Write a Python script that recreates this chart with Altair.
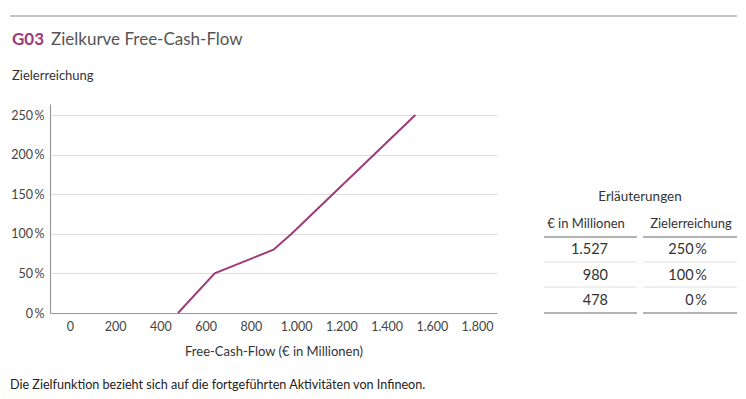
import altair as alt
import pandas as pd

# ---- data ----
fcf = [478, 640, 900, 980, 1527]          # Free-Cash-Flow (€ in Mio)
ziel = [0, 50, 80, 100, 250]              # Zielerreichung in %
x_ticks = [0, 200, 400, 600, 800, 1000, 1200, 1400, 1600, 1800]
y_ticks = [0, 50, 100, 150, 200, 250]
tab_fcf = [1527, 980, 478]
tab_ziel = [250, 100, 0]
tab_headers = ["€ in Millionen", "Zielerreichung"]

FONT = "Lato"
MAGENTA = "#9e3a79"

line_df = pd.DataFrame({"fcf": fcf, "ziel": ziel})

W, H = 447, 209

line = alt.Chart(line_df).mark_line(color=MAGENTA, strokeWidth=2).encode(
    x=alt.X("fcf:Q", scale=alt.Scale(domain=[-88, 1888], nice=False, zero=False),
            axis=alt.Axis(values=x_ticks, grid=False, ticks=False,
                          labelExpr="replace(format(datum.value, ','), ',', '.')",
                          title="Free-Cash-Flow (€ in Millionen)",
                          labelPadding=7, titlePadding=13)),
    y=alt.Y("ziel:Q", scale=alt.Scale(domain=[0, 264], nice=False),
            axis=alt.Axis(values=y_ticks, grid=True, ticks=False,
                          labelExpr="datum.value + '\u2009%'",
                          title=None, labelPadding=6)),
)

def one(**kw):
    return pd.DataFrame([kw])

def txt(df, size, color, weight="normal", align="left", baseline="alphabetic"):
    return alt.Chart(df).mark_text(font=FONT, fontSize=size, color=color,
                                   fontWeight=weight, align=align, baseline=baseline).encode(
        x=alt.X("px:Q", scale=None, axis=None),
        y=alt.Y("py:Q", scale=None, axis=None),
        text="t:N",
    )

top_rule = alt.Chart(one(a=0)).mark_rule(color="#8c8c8c", strokeWidth=1.2).encode(
    x=alt.value(-40), x2=alt.value(687), y=alt.value(-88))

g03 = txt(one(px=-38, py=-59, t="G03"), 17, MAGENTA, weight="bold")
title = txt(one(px=1, py=-59, t="Zielkurve Free-Cash-Flow"), 17, "#555555")
ytitle = txt(one(px=-38, py=-24, t="Zielerreichung"), 13, "#333333")
foot = txt(one(px=-40, py=281,
               t="Die Zielfunktion bezieht sich auf die fortgeführten Aktivitäten von Infineon."),
           12.6, "#222222", baseline="middle")

# table
tab_title = txt(one(px=590, py=93, t="Erläuterungen"), 13.5, "#333333", align="center", baseline="middle")
hdr_df = pd.DataFrame({"px": [536, 641], "py": [120, 120], "t": tab_headers})
headers = txt(hdr_df, 13, "#333333", align="center", baseline="middle")

rows_df = pd.DataFrame({"i": list(range(len(tab_fcf))), "v": tab_fcf, "z": tab_ziel})
rows_df["py"] = 146 + 25.5 * rows_df["i"]
c1 = rows_df.assign(px=558, t=[f"{v:,}".replace(",", ".") for v in tab_fcf])
c2 = rows_df.assign(px=657, t=[f"{z}\u2009%" for z in tab_ziel])
col1 = txt(c1, 14.5, "#333333", align="right", baseline="middle")
col2 = txt(c2, 14.5, "#333333", align="right", baseline="middle")

lines_df = pd.DataFrame({
    "x1": [494, 593] * 4,
    "x2": [587, 687] * 4,
    "yy": [133, 133, 158, 158, 183, 183, 209, 209],
    "kind": ["dark", "dark", "light", "light", "light", "light", "dark", "dark"],
})
tab_lines = alt.Chart(lines_df).mark_rule().encode(
    x=alt.X("x1:Q", scale=None, axis=None),
    x2="x2:Q",
    y=alt.Y("yy:Q", scale=None, axis=None),
    color=alt.Color("kind:N", scale=alt.Scale(domain=["dark", "light"], range=["#9a9a9a", "#dedede"]), legend=None),
    strokeWidth=alt.StrokeWidth("kind:N", scale=alt.Scale(domain=["dark", "light"], range=[1.3, 1]), legend=None),
)

chart = alt.layer(
    line, top_rule, g03, title, ytitle, foot, tab_title, headers, tab_lines, col1, col2
).resolve_scale(x="independent", y="independent", color="independent").properties(
    width=W, height=H,
    autosize=alt.AutoSizeParams(type="none"),
    padding={"left": 42, "top": 96, "right": 241, "bottom": 78},
).configure_view(stroke=None).configure_axis(
    labelFont=FONT, titleFont=FONT, labelFontSize=12.5, titleFontSize=13,
    labelColor="#444444", titleColor="#333333", domainColor="#9a9a9a",
    gridColor="#dddddd", domainWidth=1.2, titleFontWeight="normal",
)

chart.save("out.html", embed_options={"renderer": "svg", "actions": False})
